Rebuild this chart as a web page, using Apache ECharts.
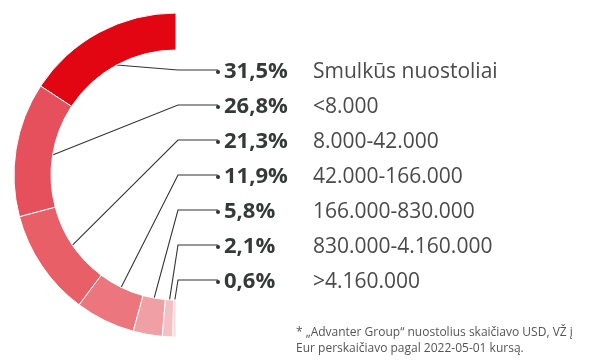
<!DOCTYPE html>
<html><head><meta charset="utf-8">
<script src="https://cdn.jsdelivr.net/npm/echarts@6/dist/echarts.min.js"></script>
<style>html,body{margin:0;padding:0;background:#fff}#c{width:600px;height:360px}</style>
</head><body><div id="c"></div>
<script>
const categories = ['Smulkūs nuostoliai', '<8.000', '8.000-42.000', '42.000-166.000', '166.000-830.000', '830.000-4.160.000', '>4.160.000'];
const values = [31.5, 26.8, 21.3, 11.9, 5.8, 2.1, 0.6];
const pctLabels = ['31,5%', '26,8%', '21,3%', '11,9%', '5,8%', '2,1%', '0,6%'];
const colors = ['#e20613', '#e6505c', '#e85f68', '#ec767d', '#f0a0a5', '#f5c0c3', '#f8d8da'];
const footnote = ['* „Advanter Group“ nuostolius skaičiavo USD, VŽ į', 'Eur perskaičiavo pagal 2022-05-01 kursą.'];

const cx = 176, cy = 175, rIn = 125, rOut = 162;
const total = values.reduce((a, b) => a + b, 0);
const rowTop = 70, rowStep = 35, bendX = 178, dotX = 218;

const data = values.map((v, i) => ({
  name: categories[i], value: v,
  itemStyle: { color: colors[i] }
}));
data.push({ name: '__filler', value: total, itemStyle: { color: 'rgba(0,0,0,0)', borderWidth: 0 },
  label: { show: false }, labelLine: { show: false }, emphasis: { disabled: true }, silent: true });

// mid angles (counter-clockwise from top) for leader-line start points
const midAngles = [];
let acc = 0;
values.forEach(v => { midAngles.push(90 + (acc + v / 2) / (2 * total) * 360); acc += v; });

const chart = echarts.init(document.getElementById('c'), null, { renderer: 'canvas' });
chart.setOption({
  animation: false,
  series: [{
    type: 'pie',
    center: [cx, cy],
    radius: [rIn, rOut],
    startAngle: 90,
    clockwise: false,
    avoidLabelOverlap: false,
    itemStyle: { borderColor: '#ffffff', borderWidth: 1 },
    data: data,
    label: {
      show: true,
      position: 'outside',
      formatter: p => '{d|}{s|}{p|' + pctLabels[p.dataIndex] + '}{n|' + categories[p.dataIndex] + '}',
      rich: {
        d: { width: 4, height: 4, backgroundColor: '#2f3533', borderRadius: 2 },
        s: { width: 4 },
        p: { fontFamily: 'Open Sans', fontWeight: 'bold', fontSize: 22, color: '#333a38', width: 89 },
        n: { fontFamily: 'Open Sans', fontSize: 21, color: '#4a4a4a' }
      }
    },
    labelLine: { show: true, lineStyle: { color: '#333', width: 1.1 } },
    labelLayout: function (params) {
      const i = params.dataIndex;
      if (i >= values.length) return {};
      const y = rowTop + rowStep * i;
      const a = midAngles[i] * Math.PI / 180;
      const sx = cx + rIn * Math.cos(a);
      const sy = cy - rIn * Math.sin(a);
      return {
        x: dotX - 2, y: y + 2, align: 'left', verticalAlign: 'middle',
        labelLinePoints: [[sx, sy], [bendX, y], [dotX, y]]
      };
    }
  }],
  graphic: [{
    type: 'text', left: 296, top: 325,
    style: { text: footnote.join('\n'), fontFamily: 'Open Sans', fontSize: 12, lineHeight: 16, fill: '#555' }
  }]
});
</script></body></html>
